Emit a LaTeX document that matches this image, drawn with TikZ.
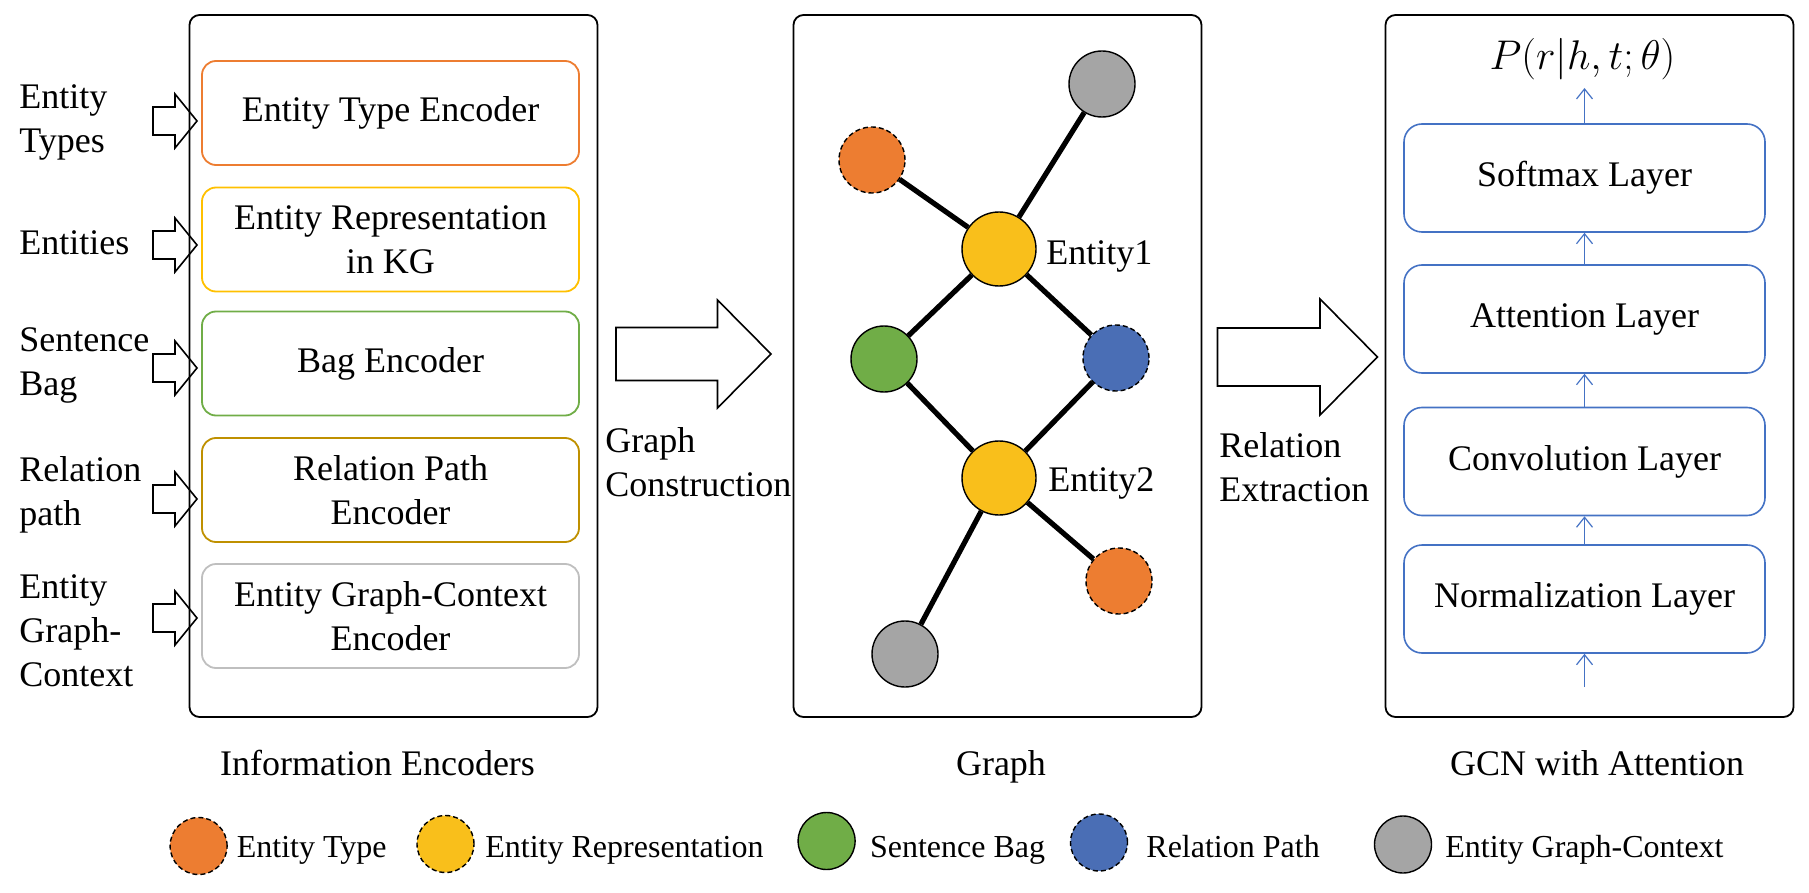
\documentclass[tikz,border=0pt]{standalone}
\usepackage{fontspec}
\setmainfont{Liberation Serif}
\usetikzlibrary{arrows.meta}

\definecolor{typeorange}{HTML}{ED7D31}
\definecolor{repyellow}{HTML}{F9BF1B}
\definecolor{boxyellow}{HTML}{FFC000}
\definecolor{baggreen}{HTML}{70AD47}
\definecolor{pathgold}{HTML}{BF9000}
\definecolor{pathblue}{HTML}{4A6EB5}
\definecolor{ctxgray}{HTML}{A5A5A5}
\definecolor{ctxline}{HTML}{BFBFBF}
\definecolor{layerblue}{HTML}{4472C4}

% tail x, axis y, length, head length, shaft half width, head half width
\newcommand{\hollowarrow}[6]{%
  \draw[hollow] (#1,#2) ++(0,-#5) -- ++(#3-#4,0) -- ++(0,#5-#6) -- ++(#4,#6)
    -- ++(-#4,#6) -- ++(0,#5-#6) -- ++(#4-#3,0) -- cycle;}

\begin{document}
\begin{tikzpicture}[x=0.5pt, y=-0.5pt,
    font=\fontsize{18}{22}\selectfont,
    panel/.style={draw, line width=0.9pt, rounded corners=5pt, minimum width=204pt, minimum height=351pt, inner sep=0pt},
    encbox/.style={draw=#1, line width=0.9pt, rounded corners=7pt, minimum width=188.5pt, minimum height=52pt, align=center},
    layer/.style={draw=layerblue, line width=0.8pt, rounded corners=9pt, minimum width=180.5pt, minimum height=54pt},
    vertex/.style={circle, draw, line width=0.7pt, fill=#1, minimum size=33pt, inner sep=0pt},
    entity/.style={vertex=repyellow, minimum size=37pt},
    typed/.style={dash pattern=on 2.5pt off 1.5pt},
    link/.style={line width=2.6pt},
    flow/.style={draw=layerblue, line width=0.6pt, -{Straight Barb[length=5pt,width=8pt]}},
    hollow/.style={line width=0.8pt, line join=miter},
    lab/.style={anchor=west, inner sep=0pt, align=left},
    legend/.style={anchor=base west, inner sep=0pt, font=\fontsize{16}{19}\selectfont},
    legdot/.style={vertex=#1, minimum size=28.5pt}]
  \useasboundingbox (0,0) rectangle (1809,893);

  % panels
  \node[panel] (encpanel) at (393.5,366) {};
  \node[panel] (graphpanel) at (997.5,366) {};
  \node[panel] (gcnpanel) at (1589.5,366) {};

  % information encoders
  \node[encbox=typeorange] (typeenc) at (390.5,113) {Entity Type Encoder};
  \node[encbox=boxyellow] (repenc) at (390.5,239.5) {Entity Representation\\in KG};
  \node[encbox=baggreen] (bagenc) at (390.5,363.5) {Bag Encoder};
  \node[encbox=pathgold] (pathenc) at (390.5,490) {Relation Path\\Encoder};
  \node[encbox=ctxline] (ctxenc) at (390.5,616) {Entity Graph-Context\\Encoder};

  \node[lab] (intype) at (19,122) {Entity\\Types};
  \node[lab] (inent) at (19,243) {Entities};
  \node[lab] (inbag) at (19,365) {Sentence\\Bag};
  \node[lab] (inpath) at (19,495) {Relation\\path};
  \node[lab] (inctx) at (19,631) {Entity\\Graph-\\Context};
  \foreach \y in {121,245,368,499,618}
    {\hollowarrow{153}{\y}{44}{22}{14}{27}}

  % graph
  \node[vertex=ctxgray] (ctxtop) at (1102,84) {};
  \node[vertex=typeorange, typed] (typetop) at (872,160) {};
  \node[entity] (ent1) at (999,249) {};
  \node[vertex=baggreen] (bag) at (884,359) {};
  \node[vertex=pathblue, typed] (path) at (1116,358) {};
  \node[entity] (ent2) at (999,478) {};
  \node[vertex=typeorange, typed] (typebot) at (1119,581) {};
  \node[vertex=ctxgray] (ctxbot) at (905,654) {};
  \draw[link] (typetop) -- (ent1);
  \draw[link] (ctxtop) -- (ent1);
  \draw[link] (ent1) -- (bag);
  \draw[link] (ent1) -- (path);
  \draw[link] (bag) -- (ent2);
  \draw[link] (path) -- (ent2);
  \draw[link] (ent2) -- (typebot);
  \draw[link] (ent2) -- (ctxbot);
  \node[anchor=base west, inner sep=0pt] (ent1lbl) at (1046,264) {Entity1};
  \node[anchor=base west, inner sep=0pt] (ent2lbl) at (1048,491) {Entity2};

  \hollowarrow{616}{354}{155}{53.5}{26.5}{54}
  \node[lab] (construct) at (605,462.6) {Graph\\Construction};
  \hollowarrow{1217.5}{357}{160}{57.5}{29}{58}
  \node[lab] (extract) at (1219,467.6) {Relation\\Extraction};

  % gcn with attention
  \node[layer] (soft) at (1584.5,178) {Softmax Layer};
  \node[layer] (att) at (1584.5,319) {Attention Layer};
  \node[layer] (conv) at (1584.5,461.5) {Convolution Layer};
  \node[layer] (norm) at (1584.5,599) {Normalization Layer};
  \node[anchor=base, inner sep=0pt, font=\fontsize{20}{24}\selectfont] (prob) at (1582.5,70) {$P(r|h,t;\theta)$};
  \coordinate (probin) at (1584.5,88);
  \coordinate (gcnin) at (1584.5,687);
  \draw[flow] (gcnin) -- (norm.south);
  \draw[flow] (norm.north) -- (conv.south);
  \draw[flow] (conv.north) -- (att.south);
  \draw[flow] (att.north) -- (soft.south);
  \draw[flow] (soft.north) -- (probin);

  % captions
  \node[anchor=base, inner sep=0pt] (enccap) at (377.5,775) {Information Encoders};
  \node[anchor=base, inner sep=0pt] (graphcap) at (1001,775) {Graph};
  \node[anchor=base, inner sep=0pt] (gcncap) at (1597,775) {GCN with Attention};

  % legend
  \node[legdot=typeorange, typed] (legtype) at (198.6,846) {};
  \node[legend] at (236.5,857) {Entity Type};
  \node[legdot=repyellow, typed] (legrep) at (445.5,844) {};
  \node[legend] at (485,857) {Entity Representation};
  \node[legdot=baggreen] (legbag) at (826.6,841) {};
  \node[legend] at (869.6,857) {Sentence Bag};
  \node[legdot=pathblue, typed] (legpath) at (1099,842.5) {};
  \node[legend] at (1146,857) {Relation Path};
  \node[legdot=ctxgray] (legctx) at (1403,844.5) {};
  \node[legend] at (1445,857) {Entity Graph-Context};
\end{tikzpicture}
\end{document}
